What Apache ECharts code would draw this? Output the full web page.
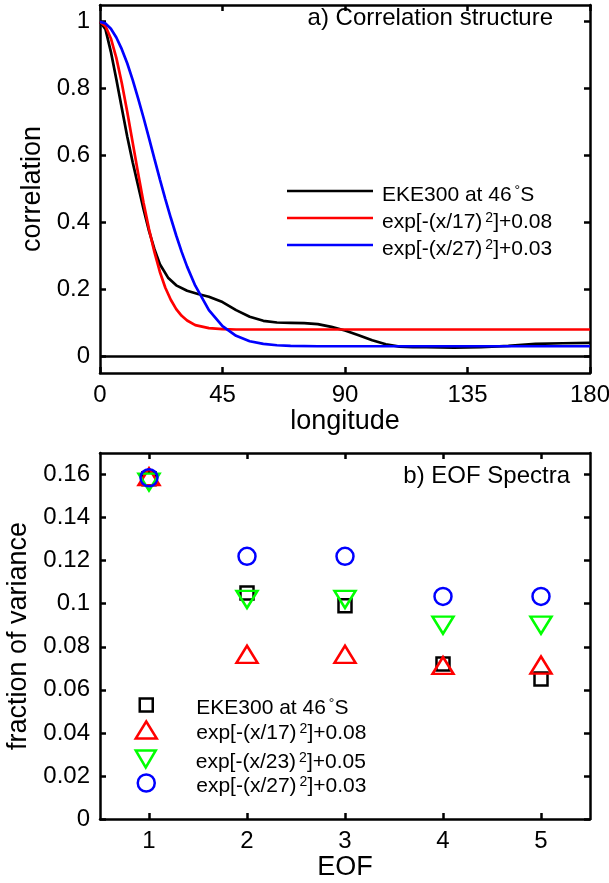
<!DOCTYPE html>
<html><head><meta charset="utf-8">
<script src="https://cdn.jsdelivr.net/npm/echarts@6/dist/echarts.min.js"></script>
<style>html,body{margin:0;padding:0;background:#fff}#c{width:609px;height:883px}</style>
</head><body><div id="c"></div>
<script>
// ---- panel a) correlation structure ----
const lonEKE = [0,2,4,6,8,10,12,14,16,18,20,22,25,28,32,36,40,45,50,55,60,65,70,75,80,85,90,95,100,105,110,115,120,130,140,150,160,170,180];
const corrEKE = [1.0,0.978,0.91,0.828,0.742,0.657,0.58,0.51,0.44,0.375,0.32,0.275,0.235,0.212,0.196,0.186,0.178,0.162,0.138,0.118,0.106,0.101,0.100,0.099,0.096,0.088,0.077,0.063,0.048,0.036,0.029,0.027,0.027,0.026,0.027,0.031,0.037,0.039,0.040];
const lonFit = [0,2,4,6,8,10,12,14,16,18,20,22,24,26,28,30,32,35,40,45,50,55,60,65,70,80,90,120,150,180];
const corrFit17 = [1.0,0.987,0.950,0.892,0.817,0.731,0.639,0.547,0.459,0.380,0.311,0.252,0.205,0.169,0.141,0.121,0.107,0.093,0.084,0.081,0.080,0.080,0.080,0.080,0.080,0.080,0.080,0.080,0.080,0.080];
const corrFit27 = [1.0,0.995,0.979,0.953,0.918,0.876,0.826,0.771,0.713,0.652,0.590,0.529,0.470,0.414,0.361,0.312,0.268,0.211,0.138,0.090,0.061,0.045,0.037,0.033,0.031,0.030,0.030,0.030,0.030,0.030];
const lonTicks = [0,45,90,135,180];
const corrTicks = [0,0.2,0.4,0.6,0.8,1];
const topNames = ['EKE300 at 46°S','exp[-(x/17)²]+0.08','exp[-(x/27)²]+0.03'];

// ---- panel b) EOF spectra ----
const eofNums = [1,2,3,4,5];
const fvEKE = [0.158,0.105,0.099,0.072,0.065];
const fv17 = [0.159,0.0765,0.0765,0.0713,0.0715];
const fv23 = [0.1565,0.102,0.102,0.090,0.090];
const fv27 = [0.1585,0.122,0.122,0.1034,0.1034];
const fvTicks = [0,0.02,0.04,0.06,0.08,0.1,0.12,0.14,0.16];
const botNames = ['EKE300 at 46°S','exp[-(x/17)²]+0.08','exp[-(x/23)²]+0.05','exp[-(x/27)²]+0.03'];

const FF = "'Liberation Sans', Arial, Helvetica, sans-serif";
const BPFX = 'b|'; // keeps panel-b series names distinct from panel-a names
function fmtNum(v){ return String(parseFloat(Number(v).toFixed(3))); }
function axis(pos, grid, min, max, ticks, labels, name, gap){
  return {
    type:'value', gridIndex:grid, position:pos, min:min, max:max,
    axisLine:{show:true, onZero:false, lineStyle:{color:'#000', width:2.5}},
    axisTick:{show:true, inside:true, length:6, customValues:ticks, lineStyle:{color:'#000', width:2.5}},
    axisLabel:{show:labels, customValues:ticks, margin:10, color:'#000', fontSize:24, fontFamily:FF, formatter:fmtNum},
    splitLine:{show:false},
    name:name||'', nameLocation:'middle', nameGap:gap||0,
    nameTextStyle:{color:'#000', fontSize:27, fontFamily:FF}
  };
}
const rich = {
  sup:{fontSize:14, fontFamily:FF, color:'#000', verticalAlign:'top', lineHeight:14, padding:[0,0,0,3]}
};
function richName(n){ return n.replace(BPFX,'').replace('²','{sup|2}').replace('°','{sup|°}'); }

function lineLegend(name, top, col){
  return {
    data:[{name:name, icon:'rect', itemStyle:{color:col, borderWidth:0, opacity:1}}],
    left:287, top:top, padding:0, orient:'vertical',
    itemWidth:86, itemHeight:2.7, selectedMode:false,
    formatter:richName,
    textStyle:{color:'#000', fontSize:21, fontFamily:FF, lineHeight:22, padding:[8,0,0,4], rich:rich}
  };
}
function symLegend(name, top, icon, w, h, col){
  return {
    data:[{name:BPFX+name, icon:icon, itemStyle:{color:'transparent', borderColor:col, borderWidth:2.5, opacity:1}}],
    left:145 - w/2, top:top, padding:0, orient:'vertical',
    itemWidth:w, itemHeight:h, selectedMode:false, symbolRotate:0,
    formatter:richName,
    textStyle:{color:'#000', fontSize:21, fontFamily:FF, lineHeight:22, padding:[6,0,0,45 - w/2], rich:rich}
  };
}
function lineSeries(name, xs, ys, col, extra){
  return Object.assign({
    type:'line', name:name, xAxisIndex:0, yAxisIndex:0,
    data: xs.map((x,i)=>[x, ys[i]]),
    symbol:'none', smooth:false,
    lineStyle:{color:col, width:2.7}, itemStyle:{color:col}
  }, extra||{});
}
function scatSeries(name, ys, sym, size, col, rot){
  return {
    type:'scatter', name:BPFX+name, xAxisIndex:2, yAxisIndex:2,
    data: eofNums.map((e,i)=>[e, ys[i]]),
    symbol:sym, symbolSize:size, symbolRotate:rot||0,
    itemStyle:{color:'transparent', borderColor:col, borderWidth:2.5, opacity:1}
  };
}
const TRI_DOWN = 'path://M0,0 L20,0 L10,17 Z';

const chart = echarts.init(document.getElementById('c'), null, {renderer:'canvas'});
chart.setOption({
  animation:false,
  backgroundColor:'#fff',
  grid:[
    {left:100, right:19, top:5, height:368, outerBoundsMode:'none'},
    {left:100, right:19, top:453, height:366, outerBoundsMode:'none'}
  ],
  xAxis:[
    axis('bottom',0,0,180,lonTicks,true,'longitude',33),
    axis('top',0,0,180,lonTicks,false),
    axis('bottom',1,0.5,5.5,eofNums,true,'EOF',33),
    axis('top',1,0.5,5.5,eofNums,false)
  ],
  yAxis:[
    axis('left',0,-0.05,1.05,corrTicks,true,'correlation',48),
    axis('right',0,-0.05,1.05,corrTicks,false),
    axis('left',1,0,0.17,fvTicks,true,'fraction of variance',62),
    axis('right',1,0,0.17,fvTicks,false)
  ],
  legend:[
    lineLegend(topNames[0],176,'#000'),
    lineLegend(topNames[1],203,'#ff0000'),
    lineLegend(topNames[2],230,'#0000ff'),
    symLegend(botNames[0],691,'rect',13,13,'#000'),
    symLegend(botNames[1],716,'triangle',21,17,'#ff0000'),
    symLegend(botNames[2],745,TRI_DOWN,21,17,'#00ff00'),
    symLegend(botNames[3],769,'circle',17,17,'#0000ff')
  ],
  graphic:[
    {type:'text', x:553, y:18, style:{text:'a) Correlation structure', align:'right', verticalAlign:'middle', fontSize:24, fontFamily:FF, fill:'#000'}},
    {type:'text', x:570, y:476, style:{text:'b) EOF Spectra', align:'right', verticalAlign:'middle', fontSize:24, fontFamily:FF, fill:'#000'}}
  ],
  series:[
    lineSeries(topNames[0], lonEKE, corrEKE, '#000', {
      markLine:{silent:true, symbol:'none', label:{show:false}, lineStyle:{color:'#000', width:2.5, type:'solid'}, data:[{yAxis:0}]}
    }),
    lineSeries(topNames[1], lonFit, corrFit17, '#ff0000'),
    lineSeries(topNames[2], lonFit, corrFit27, '#0000ff'),
    scatSeries(botNames[0], fvEKE, 'rect', 13, '#000'),
    scatSeries(botNames[1], fv17, 'triangle', [21,17], '#ff0000'),
    scatSeries(botNames[2], fv23, 'triangle', [21,17], '#00ff00', 180),
    scatSeries(botNames[3], fv27, 'circle', 17, '#0000ff')
  ]
});
</script></body></html>
